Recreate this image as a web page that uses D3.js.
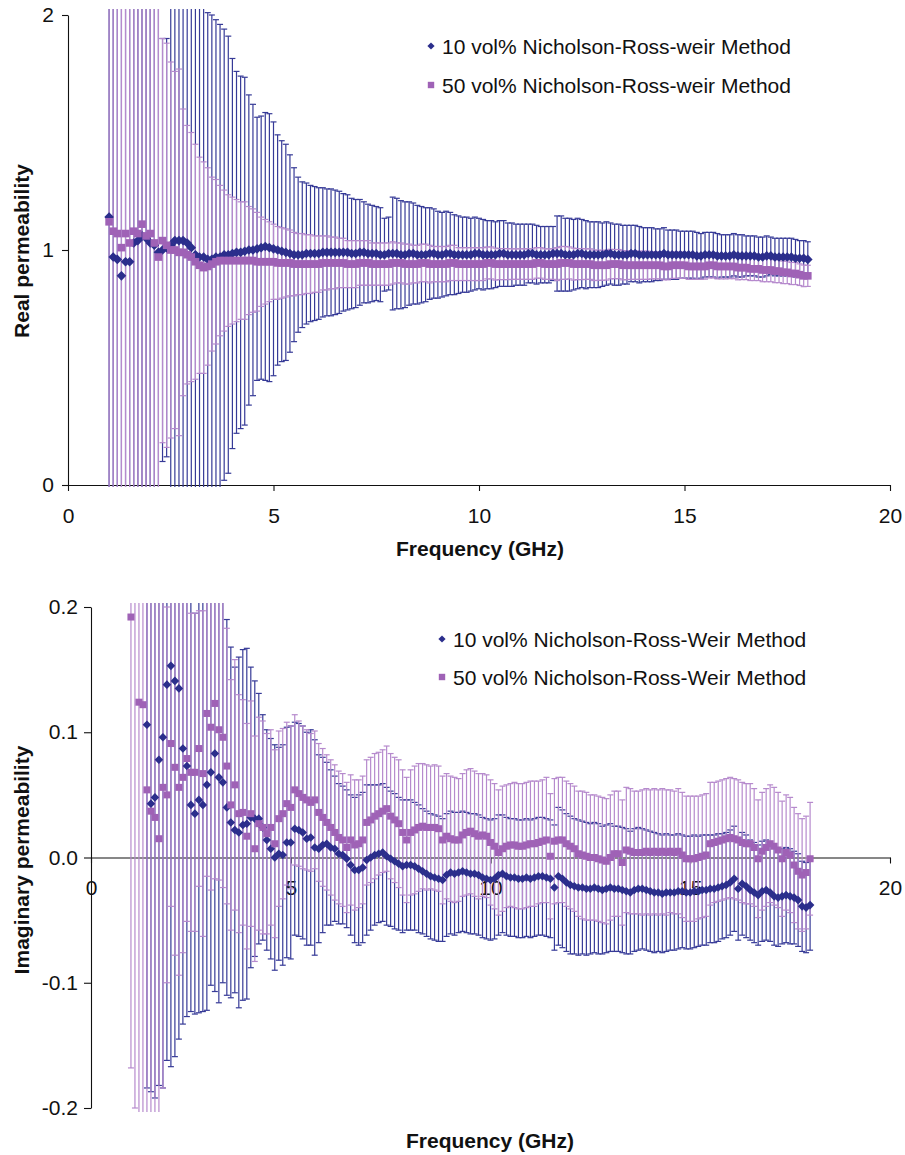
<!DOCTYPE html>
<html><head><meta charset="utf-8">
<script src="https://cdn.jsdelivr.net/npm/d3@7"></script>
<style>
body{margin:0;background:#fff}
svg{display:block}
text{font-family:"Liberation Sans",Arial,sans-serif}
</style>
</head><body>
<svg id="c" width="905" height="1155"></svg>
<script>
// ---------- DATA ----------
// measurement grid: 1.0 GHz to 18.0 GHz, 0.1 GHz step (171 points)
const freq = d3.range(171).map(i => Math.round((1 + i * 0.1) * 10) / 10);
const xTicks = [0, 5, 10, 15, 20];
const realYTicks = [0, 1, 2];
const imagYTicks = [-0.2, -0.1, 0, 0.1, 0.2];
const realLegend = ["10 vol% Nicholson-Ross-weir Method", "50 vol% Nicholson-Ross-weir Method"];
const imagLegend = ["10 vol% Nicholson-Ross-Weir Method", "50 vol% Nicholson-Ross-Weir Method"];

const realBlue = [
1.14,0.97,0.96,0.89,0.95,0.95,1.03,1.04,1.06,1.05,
1.03,1.02,0.99,1.00,1.01,1.02,1.04,1.04,1.04,1.03,
1.01,0.98,0.97,0.97,0.96,0.96,0.97,0.97,0.98,0.98,
0.985,0.99,0.99,0.995,1.00,1.00,1.005,1.01,1.015,1.01,
1.005,1.00,0.995,0.99,0.985,0.98,0.98,0.98,0.985,0.985,
0.985,0.985,0.99,0.99,0.99,0.99,0.99,0.99,0.99,0.985,
0.985,0.99,0.99,0.985,0.985,0.985,0.98,0.98,0.985,0.985,
0.985,0.98,0.98,0.985,0.985,0.98,0.98,0.98,0.985,0.985,
0.98,0.98,0.985,0.985,0.98,0.98,0.98,0.98,0.98,0.985,
0.985,0.98,0.98,0.98,0.98,0.985,0.985,0.98,0.98,0.98,
0.98,0.98,0.985,0.985,0.98,0.98,0.98,0.98,0.985,0.985,
0.985,0.98,0.98,0.98,0.985,0.985,0.98,0.98,0.98,0.98,
0.98,0.985,0.985,0.98,0.98,0.98,0.98,0.985,0.985,0.98,
0.98,0.98,0.98,0.98,0.98,0.985,0.98,0.98,0.98,0.98,
0.98,0.98,0.98,0.975,0.975,0.98,0.98,0.98,0.975,0.975,
0.975,0.975,0.98,0.975,0.975,0.975,0.975,0.975,0.97,0.97,
0.975,0.975,0.97,0.97,0.97,0.97,0.97,0.965,0.965,0.965,
0.96];
const realBlueErr = [
2.5,2.5,2.5,2.5,2.5,2.5,2.5,2.5,2.5,2.5,
2.2,2.0,1.8,0.90,0.89,1.10,1.15,1.15,1.12,1.10,
1.10,1.08,1.07,1.06,1.05,1.04,1.01,0.99,0.96,0.93,
0.83,0.77,0.75,0.74,0.66,0.62,0.56,0.56,0.57,0.57,
0.54,0.49,0.47,0.46,0.42,0.37,0.33,0.31,0.30,0.29,
0.285,0.28,0.275,0.27,0.27,0.265,0.26,0.25,0.245,0.235,
0.23,0.225,0.215,0.21,0.205,0.20,0.20,0.155,0.155,0.24,
0.235,0.23,0.225,0.22,0.215,0.21,0.205,0.20,0.195,0.19,
0.185,0.18,0.18,0.175,0.17,0.165,0.16,0.16,0.155,0.155,
0.15,0.15,0.145,0.145,0.14,0.14,0.14,0.135,0.135,0.13,
0.13,0.13,0.125,0.125,0.125,0.12,0.12,0.12,0.115,0.16,
0.16,0.155,0.155,0.15,0.15,0.145,0.145,0.14,0.14,0.14,
0.135,0.135,0.13,0.13,0.13,0.125,0.125,0.12,0.12,0.12,
0.115,0.115,0.115,0.11,0.11,0.11,0.105,0.105,0.105,0.10,
0.10,0.10,0.10,0.10,0.095,0.095,0.095,0.095,0.095,0.09,
0.09,0.09,0.09,0.09,0.09,0.085,0.085,0.085,0.085,0.085,
0.085,0.08,0.08,0.08,0.08,0.08,0.08,0.08,0.075,0.075,
0.075];
const realPurple = [
1.12,1.08,1.07,1.01,1.07,1.03,1.08,1.07,1.11,1.06,
1.07,1.03,0.97,1.04,1.02,1.00,1.00,0.99,0.99,0.98,
0.97,0.95,0.935,0.925,0.93,0.94,0.95,0.955,0.955,0.955,
0.955,0.955,0.955,0.955,0.955,0.955,0.95,0.95,0.95,0.95,
0.95,0.945,0.945,0.945,0.945,0.94,0.94,0.94,0.94,0.94,
0.94,0.94,0.945,0.945,0.945,0.945,0.945,0.945,0.94,0.94,
0.94,0.945,0.945,0.945,0.94,0.94,0.94,0.94,0.94,0.945,
0.945,0.945,0.94,0.94,0.94,0.94,0.945,0.945,0.94,0.94,
0.94,0.94,0.94,0.945,0.945,0.94,0.94,0.94,0.94,0.94,
0.94,0.94,0.945,0.945,0.94,0.94,0.94,0.94,0.94,0.94,
0.94,0.94,0.94,0.94,0.945,0.945,0.94,0.94,0.94,0.94,
0.945,0.945,0.945,0.94,0.94,0.94,0.94,0.94,0.935,0.935,
0.935,0.935,0.94,0.94,0.94,0.935,0.935,0.935,0.935,0.935,
0.935,0.935,0.935,0.935,0.935,0.93,0.93,0.935,0.935,0.935,
0.935,0.93,0.93,0.93,0.93,0.93,0.935,0.935,0.93,0.93,
0.93,0.93,0.93,0.925,0.925,0.925,0.92,0.92,0.92,0.915,
0.915,0.915,0.91,0.91,0.905,0.905,0.90,0.90,0.895,0.89,
0.89];
const realPurpleErr = [
2.5,2.5,2.5,2.5,2.5,2.5,2.5,2.5,2.5,2.5,
2.2,2.0,1.6,0.86,0.86,0.80,0.76,0.78,0.61,0.55,
0.53,0.50,0.46,0.45,0.42,0.37,0.35,0.32,0.30,0.28,
0.27,0.26,0.25,0.25,0.23,0.22,0.21,0.19,0.18,0.17,
0.16,0.155,0.15,0.145,0.14,0.135,0.13,0.13,0.125,0.125,
0.12,0.12,0.115,0.115,0.11,0.11,0.105,0.105,0.10,0.10,
0.10,0.095,0.095,0.095,0.09,0.09,0.09,0.09,0.09,0.09,
0.085,0.085,0.085,0.085,0.08,0.08,0.08,0.08,0.08,0.075,
0.075,0.075,0.075,0.075,0.075,0.07,0.07,0.07,0.07,0.07,
0.07,0.07,0.068,0.068,0.068,0.066,0.066,0.066,0.065,0.065,
0.065,0.065,0.065,0.065,0.065,0.065,0.065,0.065,0.065,0.07,
0.07,0.07,0.068,0.068,0.066,0.066,0.065,0.065,0.065,0.064,
0.064,0.063,0.063,0.062,0.062,0.062,0.061,0.06,0.06,0.06,
0.06,0.06,0.058,0.058,0.058,0.057,0.057,0.056,0.056,0.056,
0.055,0.055,0.055,0.055,0.055,0.054,0.054,0.054,0.053,0.053,
0.053,0.052,0.052,0.052,0.051,0.051,0.05,0.05,0.05,0.05,
0.05,0.05,0.049,0.049,0.048,0.048,0.047,0.047,0.046,0.046,
0.045];

const imagBlue = [
null,null,null,null,0.106,0.043,0.048,0.078,0.096,0.138,
0.153,0.141,0.135,0.087,0.073,0.042,0.035,0.046,0.042,0.058,
0.068,0.083,0.064,0.060,0.040,0.028,0.022,0.020,0.026,0.027,
0.032,0.031,0.031,0.024,0.014,0.007,0.000,0.003,0.002,0.012,
0.012,0.023,0.022,0.020,0.015,0.016,0.008,0.007,0.010,0.011,
0.008,0.007,0.003,0.002,-0.001,-0.006,-0.010,-0.010,-0.008,-0.002,
0.000,0.002,0.003,0.004,0.001,-0.001,-0.003,-0.005,-0.007,-0.006,
-0.006,-0.007,-0.009,-0.011,-0.013,-0.015,-0.016,-0.017,-0.018,-0.014,
-0.012,-0.013,-0.012,-0.011,-0.012,-0.013,-0.013,-0.014,-0.016,-0.017,
-0.018,-0.017,-0.014,-0.013,-0.015,-0.016,-0.016,-0.017,-0.017,-0.016,
-0.017,-0.016,-0.015,-0.015,-0.016,-0.017,-0.024,-0.015,-0.017,-0.020,
-0.022,-0.023,-0.024,-0.024,-0.025,-0.025,-0.024,-0.025,-0.026,-0.025,
-0.024,-0.025,-0.025,-0.026,-0.027,-0.028,-0.026,-0.025,-0.025,-0.026,
-0.027,-0.028,-0.028,-0.029,-0.028,-0.028,-0.028,-0.027,-0.027,-0.028,
-0.028,-0.027,-0.027,-0.026,-0.026,-0.025,-0.025,-0.024,-0.023,-0.022,
-0.020,-0.017,-0.025,-0.021,-0.023,-0.026,-0.028,-0.030,-0.027,-0.026,
-0.028,-0.031,-0.032,-0.031,-0.030,-0.031,-0.032,-0.034,-0.039,-0.040,
-0.038];
const imagBlueErr = [
0.30,0.30,0.30,0.30,0.29,0.23,0.24,0.26,0.28,0.30,
0.32,0.30,0.28,0.22,0.20,0.165,0.16,0.17,0.165,0.18,
0.17,0.19,0.18,0.16,0.15,0.14,0.13,0.14,0.14,0.14,
0.12,0.11,0.10,0.09,0.088,0.088,0.09,0.085,0.088,0.092,
0.093,0.085,0.085,0.085,0.085,0.086,0.086,0.075,0.07,0.065,
0.062,0.058,0.056,0.055,0.055,0.056,0.058,0.06,0.06,0.06,
0.058,0.056,0.055,0.055,0.055,0.054,0.054,0.053,0.053,0.052,
0.052,0.051,0.051,0.05,0.05,0.05,0.05,0.05,0.049,0.049,
0.049,0.049,0.048,0.048,0.048,0.048,0.048,0.048,0.048,0.048,
0.048,0.048,0.048,0.047,0.047,0.047,0.047,0.047,0.047,0.047,
0.047,0.047,0.047,0.047,0.047,0.047,0.05,0.055,0.055,0.055,
0.055,0.054,0.054,0.053,0.053,0.052,0.052,0.052,0.051,0.051,
0.051,0.05,0.05,0.05,0.05,0.049,0.049,0.049,0.048,0.048,
0.048,0.048,0.047,0.047,0.047,0.046,0.046,0.046,0.045,0.045,
0.045,0.045,0.044,0.044,0.044,0.043,0.043,0.043,0.042,0.042,
0.042,0.042,0.041,0.041,0.041,0.04,0.04,0.04,0.04,0.04,
0.039,0.039,0.039,0.038,0.038,0.038,0.037,0.037,0.036,0.036,
0.036];
const imagPurple = [
0.192,0.25,0.124,0.122,0.054,0.037,0.032,0.015,0.056,0.050,
0.091,0.072,0.056,0.064,0.079,0.068,0.068,0.087,0.067,0.115,
0.104,0.123,0.102,0.096,0.073,0.042,0.058,0.035,0.036,0.017,
0.035,0.007,0.027,0.024,0.019,0.024,0.011,0.031,0.035,0.043,
0.040,0.054,0.051,0.048,0.046,0.044,0.046,0.036,0.032,0.028,
0.024,0.020,0.016,0.014,0.008,0.014,0.010,0.011,0.014,0.028,
0.030,0.033,0.035,0.037,0.039,0.033,0.030,0.027,0.020,0.014,
0.020,0.022,0.024,0.025,0.024,0.024,0.024,0.023,0.014,0.017,
0.015,0.014,0.014,0.018,0.020,0.021,0.019,0.017,0.018,0.017,
0.012,0.009,0.004,0.007,0.009,0.010,0.010,0.009,0.009,0.010,
0.011,0.011,0.012,0.013,0.014,0.001,0.013,0.014,0.014,0.011,
0.009,0.007,0.003,0.002,0.001,0.000,0.000,-0.001,-0.002,-0.003,
0.000,0.003,0.003,-0.004,0.006,0.005,0.004,0.004,0.004,0.005,
0.004,0.005,0.004,0.005,0.004,0.005,0.004,0.005,0.002,-0.001,
-0.001,-0.001,0.000,0.001,0.002,0.011,0.012,0.013,0.014,0.015,
0.016,0.015,0.014,0.012,0.011,0.011,0.008,-0.001,0.005,0.008,
0.011,0.009,0.006,-0.001,0.004,0.002,-0.006,-0.011,-0.014,-0.012,
-0.001];
const imagPurpleErr = [
0.36,0.45,0.33,0.33,0.30,0.28,0.30,0.25,0.24,0.15,
0.13,0.15,0.15,0.14,0.13,0.127,0.127,0.11,0.13,0.13,
0.13,0.14,0.12,0.12,0.11,0.10,0.10,0.095,0.09,0.09,
0.09,0.09,0.085,0.085,0.08,0.078,0.075,0.07,0.068,0.065,
0.065,0.06,0.058,0.057,0.056,0.055,0.055,0.055,0.055,0.054,
0.054,0.054,0.053,0.053,0.052,0.052,0.052,0.051,0.051,0.05,
0.05,0.05,0.049,0.049,0.05,0.05,0.05,0.051,0.05,0.05,
0.05,0.051,0.051,0.05,0.05,0.049,0.05,0.05,0.051,0.05,
0.05,0.05,0.049,0.049,0.05,0.05,0.05,0.05,0.049,0.049,
0.05,0.05,0.05,0.05,0.049,0.049,0.05,0.05,0.05,0.05,
0.05,0.05,0.049,0.049,0.05,0.05,0.05,0.05,0.05,0.05,
0.05,0.05,0.05,0.051,0.051,0.05,0.05,0.05,0.05,0.05,
0.05,0.05,0.05,0.05,0.05,0.05,0.049,0.049,0.05,0.05,
0.05,0.05,0.05,0.05,0.05,0.049,0.049,0.05,0.05,0.05,
0.05,0.05,0.049,0.049,0.049,0.049,0.048,0.048,0.048,0.048,
0.048,0.048,0.048,0.048,0.048,0.048,0.047,0.047,0.047,0.047,
0.047,0.047,0.046,0.046,0.046,0.046,0.046,0.046,0.045,0.045,
0.045];

// ---------- STYLE ----------
const blueMark = "#2B2E8C", blueBar = "#363A97";
const purpleMark = "#9F62B6", purpleBar = "#B68ACD";
const FONT = 21;

const svg = d3.select("#c");
const diamond = r => `M0,${-r}L${r},0L0,${r}L${-r},0Z`;

function panel(o) {
  const x = d3.scaleLinear().domain([0, 20]).range(o.xRange);
  const y = d3.scaleLinear().domain(o.yDomain).range(o.yRange);
  const g = svg.append("g");

  // axes first (series are drawn over them)
  const xa = g.append("g").attr("transform", `translate(0,${y(0)})`)
    .call(d3.axisBottom(x).tickValues(xTicks).tickSize(6).tickSizeOuter(0).tickPadding(17).tickFormat(d3.format("d")));
  const ya = g.append("g").attr("transform", `translate(${o.xRange[0]},0)`)
    .call(d3.axisLeft(y).tickValues(o.yTicks).tickSize(o.yTickSize).tickSizeOuter(0).tickPadding(o.yPad).tickFormat(o.yFmt));
  [xa, ya].forEach(a => {
    a.attr("font-family", '"Liberation Sans", Arial, sans-serif').attr("font-size", FONT);
    a.selectAll("path,line").attr("stroke", "#111").attr("stroke-width", 1.1);
    a.selectAll("text").attr("fill", "#111");
  });

  const cid = "clip" + o.id;
  svg.append("clipPath").attr("id", cid).append("rect")
    .attr("x", o.clip[0]).attr("y", o.clip[1]).attr("width", o.clip[2]).attr("height", o.clip[3]);
  const plot = g.append("g").attr("clip-path", `url(#${cid})`);

  const series = [
    { v: o.blue, e: o.blueErr, bar: blueBar, mark: blueMark, shape: "diamond" },
    { v: o.purple, e: o.purpleErr, bar: purpleBar, mark: purpleMark, shape: "square" }
  ];
  series.forEach(s => {
    const pts = freq.map((f, i) => ({ f, v: s.v[i], e: s.e[i] })).filter(d => d.v != null);
    const eg = plot.append("g").attr("stroke", s.bar).attr("stroke-width", 1.2);
    eg.selectAll("line.b").data(pts).join("line").attr("class", "b")
      .attr("x1", d => x(d.f)).attr("x2", d => x(d.f))
      .attr("y1", d => y(d.v - d.e)).attr("y2", d => y(d.v + d.e));
    ["lo", "hi"].forEach(k => {
      eg.selectAll("line." + k).data(pts).join("line").attr("class", k)
        .attr("x1", d => x(d.f) - 3).attr("x2", d => x(d.f) + 3)
        .attr("y1", d => y(k === "lo" ? d.v - d.e : d.v + d.e))
        .attr("y2", d => y(k === "lo" ? d.v - d.e : d.v + d.e));
    });
  });
  series.forEach(s => {
    const pts = freq.map((f, i) => ({ f, v: s.v[i] })).filter(d => d.v != null);
    const mg = plot.append("g").attr("fill", s.mark);
    if (s.shape === "diamond") {
      mg.selectAll("path").data(pts).join("path")
        .attr("d", diamond(o.dR))
        .attr("transform", d => `translate(${x(d.f)},${y(d.v)})`);
    } else {
      mg.selectAll("rect").data(pts).join("rect")
        .attr("x", d => x(d.f) - o.sq / 2).attr("y", d => y(d.v) - o.sq / 2)
        .attr("width", o.sq).attr("height", o.sq);
    }
  });

  // titles
  g.append("text").attr("x", o.xTitle[0]).attr("y", o.xTitle[1]).attr("text-anchor", "middle")
    .attr("font-weight", "bold").attr("font-size", FONT).attr("fill", "#111").text("Frequency (GHz)");
  g.append("text").attr("transform", `translate(${o.yTitle[0]},${o.yTitle[1]}) rotate(-90)`)
    .attr("text-anchor", "middle").attr("font-weight", "bold").attr("font-size", FONT).attr("fill", "#111")
    .text(o.yTitleText);

  // legend
  const lg = g.append("g");
  o.legend.forEach((t, i) => {
    const ly = o.legendY[i];
    if (i === 0) lg.append("path").attr("d", diamond(3.6)).attr("fill", blueMark)
      .attr("transform", `translate(${o.legendX},${ly})`);
    else lg.append("rect").attr("x", o.legendX - 3.2).attr("y", ly - 3.2).attr("width", 6.4).attr("height", 6.4).attr("fill", purpleMark);
    lg.append("text").attr("x", o.legendX + 11).attr("y", ly + 7.5).attr("font-size", FONT).attr("fill", "#111").text(t);
  });
}

panel({
  id: "top", xRange: [68, 890], yDomain: [0, 2], yRange: [485, 15], clip: [60, 9, 835, 478],
  blue: realBlue, blueErr: realBlueErr, purple: realPurple, purpleErr: realPurpleErr,
  yTicks: realYTicks, yTickSize: 6, yPad: 8, yFmt: d3.format("d"), dR: 4.8, sq: 7.6,
  xTitle: [480, 556], yTitle: [29, 251], yTitleText: "Real permeability",
  legend: realLegend, legendX: 431, legendY: [46, 85]
});
panel({
  id: "bot", xRange: [91, 890], yDomain: [-0.2, 0.2], yRange: [1108, 607], clip: [85, 603, 810, 509],
  blue: imagBlue, blueErr: imagBlueErr, purple: imagPurple, purpleErr: imagPurpleErr,
  yTicks: imagYTicks, yTickSize: 7, yPad: 6, yFmt: d => d.toFixed(1), dR: 4.3, sq: 7,
  xTitle: [490, 1148], yTitle: [29, 860], yTitleText: "Imaginary permeability",
  legend: imagLegend, legendX: 442, legendY: [639, 677]
});
</script>
</body></html>
